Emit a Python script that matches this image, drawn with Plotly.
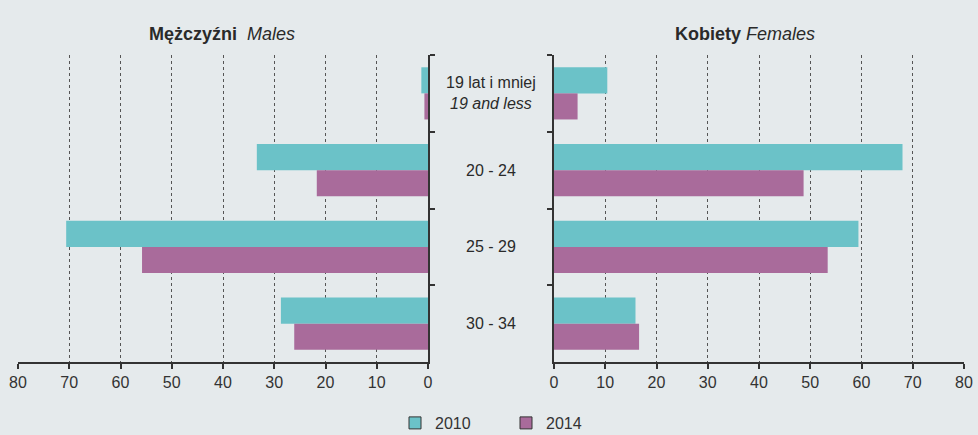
import plotly.graph_objects as go

categories = ["19 lat i mniej", "20 - 24", "25 - 29", "30 - 34"]
category_labels = ["19 lat i mniej<br><i>19 and less</i>", "20 - 24", "25 - 29", "30 - 34"]
males_2010 = [1.3, 33.4, 70.6, 28.7]
males_2014 = [0.7, 21.7, 55.8, 26.1]
females_2010 = [10.4, 68.0, 59.4, 15.9]
females_2014 = [4.6, 48.7, 53.4, 16.6]
years = ["2010", "2014"]
x_ticks = [0, 10, 20, 30, 40, 50, 60, 70, 80]

C2010 = "#6bc2c8"
C2014 = "#a96b9b"
BG = "#e5eaec"
INK = "#2a2a2a"
FONT = "Liberation Sans, Arial, sans-serif"

fig = go.Figure()
for vals, name, col in [(males_2010, years[0], C2010), (males_2014, years[1], C2014)]:
    fig.add_trace(go.Bar(x=vals, y=categories, orientation="h", name=name,
                         marker=dict(color=col, line=dict(width=0)),
                         offsetgroup=name, showlegend=False, xaxis="x", yaxis="y"))
for vals, name, col in [(females_2010, years[0], C2010), (females_2014, years[1], C2014)]:
    fig.add_trace(go.Bar(x=vals, y=categories, orientation="h", name=name,
                         marker=dict(color=col, line=dict(width=0)),
                         offsetgroup=name, showlegend=False, xaxis="x2", yaxis="y2"))
# legend entries (no data, outlined keys)
for name, col in [(years[0], C2010), (years[1], C2014)]:
    fig.add_trace(go.Bar(x=[None], y=[None], orientation="h", name=name,
                         marker=dict(color=col, line=dict(color="#333", width=1)),
                         offsetgroup=name, showlegend=True, xaxis="x", yaxis="y"))

W, H = 978, 435
ydom = [1 - 362 / H, 1 - 55 / H]

axis_common = dict(
    tickvals=x_ticks, ticktext=[str(v) for v in x_ticks],
    showline=True, linecolor="#333", linewidth=2,
    ticks="outside", ticklen=5, tickwidth=1.5, tickcolor="#333",
    showgrid=True, gridcolor="#555", griddash="dot", gridwidth=1,
    zeroline=False, tickfont=dict(size=16, color="#333", family=FONT),
    fixedrange=True, automargin=False,
)
yaxis_common = dict(
    categoryorder="array", categoryarray=categories,
    range=[3.5, -0.5], showline=True, linecolor="#333", linewidth=2,
    ticks="outside", tickson="boundaries", ticklen=5, tickwidth=1.5, tickcolor="#333",
    showticklabels=False, showgrid=False, zeroline=False, domain=ydom,
    automargin=False, fixedrange=True,
)

fig.update_layout(
    width=W, height=H,
    margin=dict(l=0, r=0, t=0, b=0, pad=0, autoexpand=False),
    paper_bgcolor=BG, plot_bgcolor=BG,
    barmode="group", bargap=0.32, bargroupgap=0,
    font=dict(family=FONT, color=INK),
    xaxis=dict(domain=[18 / W, 428 / W], range=[80, 0], anchor="y", **axis_common),
    yaxis=dict(anchor="x", side="right", **yaxis_common),
    xaxis2=dict(domain=[554 / W, 964 / W], range=[0, 80], anchor="y2", **axis_common),
    yaxis2=dict(anchor="x2", side="left", **yaxis_common),
    legend=dict(orientation="h", x=(437 - 42) / W, xanchor="left", y=1 - 423 / H, yanchor="middle",
                font=dict(size=16, color="#333", family=FONT), bgcolor="rgba(0,0,0,0)",
                entrywidth=66, entrywidthmode="pixels", itemwidth=30),
    showlegend=True,
)

fig.add_annotation(x=222 / W, y=1 - 22 / H, xref="paper", yref="paper", xanchor="center",
                   text="<b>Mężczyźni</b>  <i>Males</i>", showarrow=False,
                   font=dict(size=18, color=INK, family=FONT))
fig.add_annotation(x=745 / W, y=1 - 22 / H, xref="paper", yref="paper", xanchor="center",
                   text="<b>Kobiety</b> <i>Females</i>", showarrow=False,
                   font=dict(size=18, color=INK, family=FONT))

for i, lab in enumerate(category_labels):
    fig.add_annotation(x=491 / W, y=i, xref="paper", yref="y", xanchor="center", text=lab,
                       showarrow=False, font=dict(size=16, color=INK, family=FONT))

fig.write_html(
    "out.html",
    config={"displayModeBar": False},
    post_script=(
        "document.documentElement.style.margin='0';"
        "document.documentElement.style.overflow='hidden';"
        "document.body.style.margin='0';"
        "document.body.style.overflow='hidden';"
    ),
)
